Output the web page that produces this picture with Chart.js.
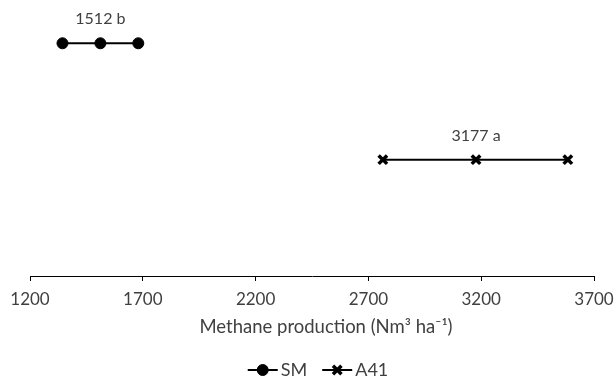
<!DOCTYPE html>
<html>
<head>
<meta charset="utf-8">
<script src="https://cdn.jsdelivr.net/npm/chart.js@4/dist/chart.umd.min.js"></script>
<style>
  html, body { margin: 0; padding: 0; background: #fff; }
  #wrap { width: 615px; height: 378px; }
</style>
</head>
<body>
<div id="wrap"><canvas id="chart" width="615" height="378"></canvas></div>
<script>
// values
const seriesNames = ["SM", "A41"];
const smValues = [1344, 1512, 1680];
const a41Values = [2764, 3177, 3584];
const rowLevels = [2, 1];
const meanLabels = ["1512 b", "3177 a"];
const pointStyles = ["circle", "crossRot"];
const xTicks = [1200, 1700, 2200, 2700, 3200, 3700];
const xTitle = "Methane production (Nm³ ha⁻¹)";

const textColor = "#404040";
const font = "Lato, 'Open Sans', sans-serif";

const toPoints = (vals, level) => vals.map((v) => ({ x: v, y: level }));

// "1512 b" above the middle point of each row
const meanLabelPlugin = {
  id: "meanLabels",
  afterDatasetsDraw(chart) {
    const ctx = chart.ctx;
    ctx.save();
    ctx.fillStyle = textColor;
    ctx.font = "16px " + font;
    ctx.textAlign = "center";
    ctx.textBaseline = "middle";
    chart.data.datasets.forEach((ds, i) => {
      const pt = chart.getDatasetMeta(i).data[1];
      ctx.fillText(meanLabels[i], pt.x, pt.y - 24);
    });
    ctx.restore();
  },
};

// axis title sits a bit right of the axis centre in the original
const axisTitlePlugin = {
  id: "axisTitle",
  afterDraw(chart) {
    const ctx = chart.ctx;
    ctx.save();
    ctx.fillStyle = textColor;
    ctx.font = "18.5px " + font;
    ctx.textAlign = "center";
    ctx.textBaseline = "middle";
    ctx.fillText(xTitle, 326, 327);
    ctx.restore();
  },
};

// legend with a line through the marker, like the office one
const lineLegendPlugin = {
  id: "lineLegend",
  afterDraw(chart) {
    const ctx = chart.ctx;
    const y = 370;
    const lineW = 30, gap = 3, itemGap = 15;
    ctx.save();
    ctx.font = "18px " + font;
    const widths = seriesNames.map((n) => lineW + gap + ctx.measureText(n).width);
    const total = widths.reduce((a, b) => a + b, 0) + itemGap * (widths.length - 1);
    let x = 318 - total / 2;
    seriesNames.forEach((name, i) => {
      ctx.strokeStyle = "#000";
      ctx.fillStyle = "#000";
      ctx.lineWidth = 2;
      ctx.beginPath();
      ctx.moveTo(x, y);
      ctx.lineTo(x + lineW, y);
      ctx.stroke();
      const ds = chart.data.datasets[i];
      ctx.lineWidth = ds.pointBorderWidth;
      Chart.helpers.drawPoint(ctx, {
        pointStyle: pointStyles[i],
        radius: ds.pointRadius,
        borderWidth: ds.pointBorderWidth,
        rotation: 0,
      }, x + lineW / 2, y);
      ctx.fillStyle = textColor;
      ctx.textAlign = "left";
      ctx.textBaseline = "middle";
      ctx.fillText(name, x + lineW + gap, y);
      x += widths[i] + itemGap;
    });
    ctx.restore();
  },
};

new Chart(document.getElementById("chart"), {
  type: "scatter",
  data: {
    datasets: [
      {
        label: seriesNames[0],
        data: toPoints(smValues, rowLevels[0]),
        showLine: true,
        borderColor: "#000",
        backgroundColor: "#000",
        borderWidth: 2,
        pointStyle: pointStyles[0],
        pointRadius: 5.5,
        pointBorderWidth: 1,
      },
      {
        label: seriesNames[1],
        data: toPoints(a41Values, rowLevels[1]),
        showLine: true,
        borderColor: "#000",
        backgroundColor: "#000",
        borderWidth: 2,
        pointStyle: pointStyles[1],
        pointRadius: 6,
        pointBorderWidth: 3.5,
      },
    ],
  },
  options: {
    responsive: false,
    animation: false,
    layout: { padding: { left: 30, right: 21, top: 20, bottom: 40 } },
    plugins: {
      legend: { display: false },
      tooltip: { enabled: false },
    },
    scales: {
      x: {
        type: "linear",
        min: xTicks[0],
        max: xTicks[xTicks.length - 1],
        afterBuildTicks(scale) {
          scale.ticks = xTicks.map((v) => ({ value: v }));
        },
        afterFit(scale) {
          scale.height = 62;
          scale.paddingLeft = 0;
          scale.paddingRight = 0;
        },
        ticks: {
          color: textColor,
          font: { family: font, size: 17 },
          padding: 8,
          maxRotation: 0,
          autoSkip: false,
          callback: (v) => String(v),
        },
        grid: {
          drawOnChartArea: false,
          drawTicks: true,
          tickLength: 5,
          color: "#000",
        },
        border: { display: true, color: "#000", width: 1 },
      },
      y: {
        display: false,
        min: 0,
        max: 2.2,
      },
    },
  },
  plugins: [meanLabelPlugin, axisTitlePlugin, lineLegendPlugin],
});
</script>
</body>
</html>
